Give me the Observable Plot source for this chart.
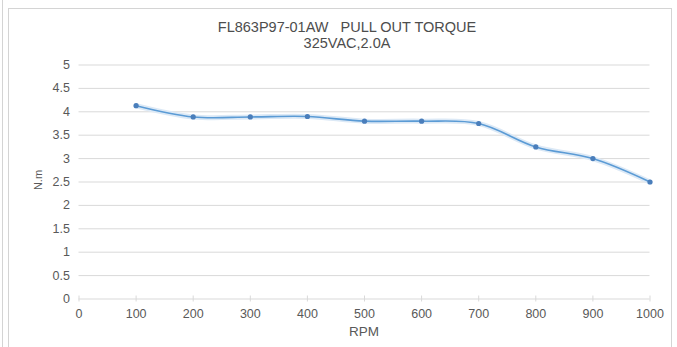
<!DOCTYPE html>
<html>
<head>
<meta charset="utf-8">
<script src="https://cdn.jsdelivr.net/npm/d3@7"></script>
<script src="https://cdn.jsdelivr.net/npm/@observablehq/plot@0.6"></script>
<style>
  html, body { margin: 0; padding: 0; background: #fff; }
  #wrap { position: relative; width: 677px; height: 347px; overflow: hidden; font-family: "Liberation Sans", Arial, sans-serif; color: #595959; }
  #wrap svg { position: absolute; left: 0; top: 0; }
  .frame { position: absolute; left: 8px; top: 8px; width: 664px; height: 360px; border: 1px solid #d4d4d4; box-sizing: border-box; }
  .outer { position: absolute; left: 2px; top: 0; width: 1px; height: 347px; background: #d4d4d4; }
  .title { position: absolute; left: 147px; width: 400px; text-align: center; font-size: 14.5px; line-height: 16px; top: 19px; color: #4d4d4d; }
  .xlab { position: absolute; left: 264px; width: 200px; text-align: center; font-size: 13.5px; top: 324px; }
  .ylab { position: absolute; left: 38px; top: 180px; font-size: 11px; transform: translate(-50%, -50%) rotate(-90deg); white-space: nowrap; }
</style>
</head>
<body>
<div id="wrap">
  <div class="outer"></div>
  <div class="frame"></div>
  <div class="title">FL863P97-01AW&nbsp;&nbsp;&nbsp;PULL OUT TORQUE<br>325VAC,2.0A</div>
  <div class="xlab">RPM</div>
  <div class="ylab">N.m</div>
</div>
<script>
const rpm = [100, 200, 300, 400, 500, 600, 700, 800, 900, 1000];
const torque = [4.13, 3.89, 3.89, 3.9, 3.8, 3.8, 3.75, 3.25, 3.0, 2.5];
const xTicks = [0, 100, 200, 300, 400, 500, 600, 700, 800, 900, 1000];
const yTicks = [0, 0.5, 1, 1.5, 2, 2.5, 3, 3.5, 4, 4.5, 5];

const data = rpm.map((r, i) => ({rpm: r, torque: torque[i]}));

const chart = Plot.plot({
  width: 677,
  height: 347,
  marginLeft: 78.5,
  marginRight: 27.5,
  marginTop: 64.5,
  marginBottom: 48.5,
  x: {domain: [0, 1000]},
  y: {domain: [0, 5]},
  style: {fontFamily: "'Liberation Sans', Arial, sans-serif", color: "#595959", background: "transparent"},
  marks: [
    Plot.gridY(yTicks.filter(d => d > 0), {stroke: "#d9d9d9", strokeOpacity: 1}),
    Plot.ruleY([0], {stroke: "#d9d9d9"}),
    Plot.axisY({ticks: yTicks, tickSize: 0, tickPadding: 9, fontSize: 12.5, tickFormat: d => String(d), label: null}),
    Plot.axisX({ticks: xTicks, tickSize: 6, dy: -3, tickFormat: () => "", stroke: "#d9d9d9", label: null}),
    Plot.axisX({ticks: xTicks, tickSize: 0, tickPadding: 10.5, fontSize: 12.5, tickFormat: d => String(d), label: null}),
    Plot.line(data, {x: "rpm", y: "torque", curve: "catmull-rom", stroke: "#dce9f6", strokeWidth: 5}),
    Plot.line(data, {x: "rpm", y: "torque", curve: "catmull-rom", stroke: "#5b9bd5", strokeWidth: 1.6}),
    Plot.dot(data, {x: "rpm", y: "torque", r: 2.6, fill: "#4a7ebb"})
  ]
});
document.getElementById("wrap").prepend(chart);
</script>
</body>
</html>
